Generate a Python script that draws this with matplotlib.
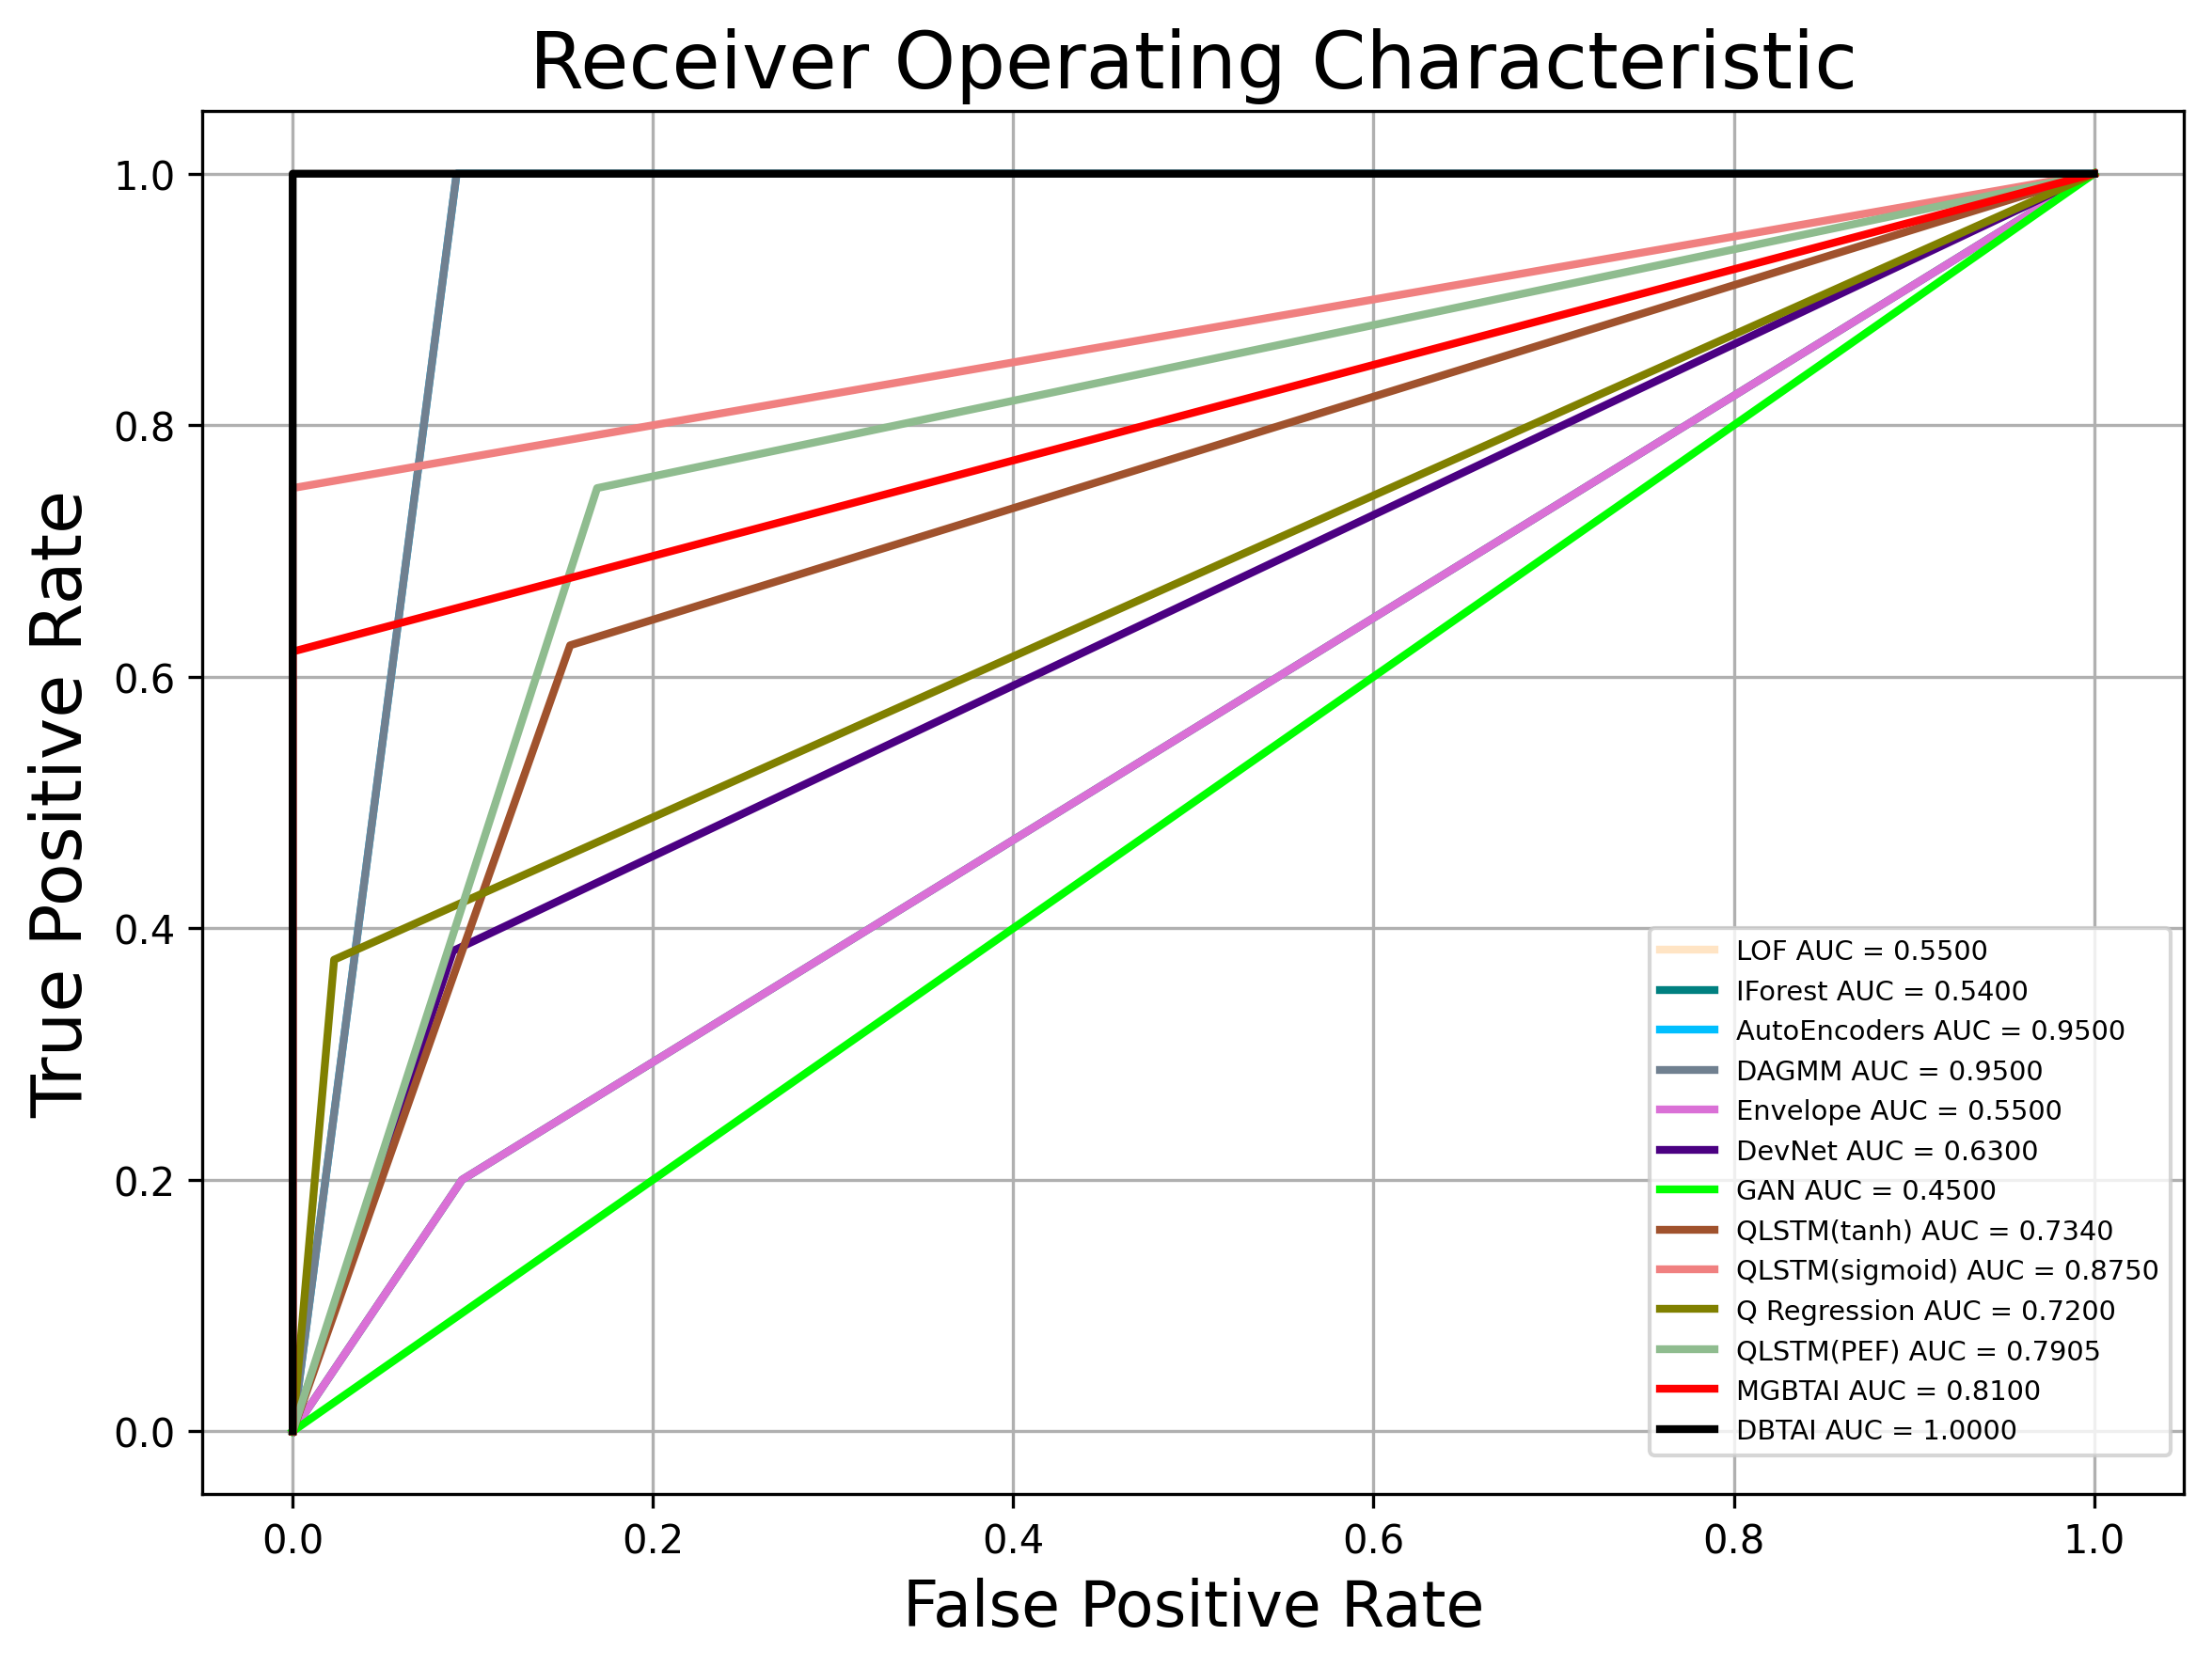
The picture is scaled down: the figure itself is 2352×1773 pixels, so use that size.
import numpy as np
import matplotlib
matplotlib.use("Agg")
import matplotlib.pyplot as plt

# model names, AUC values and colours (legend order = plot order)
models = ["LOF", "IForest", "AutoEncoders", "DAGMM", "Envelope", "DevNet", "GAN",
          "QLSTM(tanh)", "QLSTM(sigmoid)", "Q Regression", "QLSTM(PEF)", "MGBTAI", "DBTAI"]
aucs = [0.55, 0.54, 0.95, 0.95, 0.55, 0.63, 0.45, 0.734, 0.875, 0.72, 0.7905, 0.81, 1.0]
colors = ["bisque", "teal", "deepskyblue", "slategray", "orchid", "indigo", "lime",
          "sienna", "lightcoral", "olive", "darkseagreen", "red", "black"]

# ROC points
fpr_lof = [0.0, 0.094, 1.0]
tpr_lof = [0.0, 0.2, 1.0]
fpr_iforest = [0.0, 0.094, 1.0]
tpr_iforest = [0.0, 0.2, 1.0]
fpr_ae = [0.0, 0.091, 1.0]
tpr_ae = [0.0, 1.0, 1.0]
fpr_dagmm = [0.0, 0.091, 1.0]
tpr_dagmm = [0.0, 1.0, 1.0]
fpr_env = [0.0, 0.094, 1.0]
tpr_env = [0.0, 0.2, 1.0]
fpr_devnet = [0.0, 0.089, 1.0]
tpr_devnet = [0.0, 0.382, 1.0]
fpr_gan = [0.0, 1.0]
tpr_gan = [0.0, 1.0]
fpr_tanh = [0.0, 0.154, 1.0]
tpr_tanh = [0.0, 0.625, 1.0]
fpr_sig = [0.0, 0.0, 1.0]
tpr_sig = [0.0, 0.75, 1.0]
fpr_qreg = [0.0, 0.023, 1.0]
tpr_qreg = [0.0, 0.375, 1.0]
fpr_pef = [0.0, 0.169, 1.0]
tpr_pef = [0.0, 0.75, 1.0]
fpr_mgbtai = [0.0, 0.0, 1.0]
tpr_mgbtai = [0.0, 0.62, 1.0]
fpr_dbtai = [0.0, 0.0, 1.0]
tpr_dbtai = [0.0, 1.0, 1.0]

fprs = [fpr_lof, fpr_iforest, fpr_ae, fpr_dagmm, fpr_env, fpr_devnet, fpr_gan,
        fpr_tanh, fpr_sig, fpr_qreg, fpr_pef, fpr_mgbtai, fpr_dbtai]
tprs = [tpr_lof, tpr_iforest, tpr_ae, tpr_dagmm, tpr_env, tpr_devnet, tpr_gan,
        tpr_tanh, tpr_sig, tpr_qreg, tpr_pef, tpr_mgbtai, tpr_dbtai]

fig = plt.figure(figsize=(7.84, 5.9133), dpi=300)
fig.subplots_adjust(left=0.0916, right=0.9874, top=0.9330, bottom=0.1036)

for name, auc, c, fx, ty in zip(models, aucs, colors, fprs, tprs):
    # no pixel snapping, so the black curve sits exactly over the ones under it
    plt.plot(fx, ty, color=c, lw=2, snap=False, label=f"{name} AUC = {auc:.4f}")

plt.title("Receiver Operating Characteristic", fontsize=20)
plt.xlabel("False Positive Rate", fontsize=16)
plt.ylabel("True Positive Rate", fontsize=18)
plt.legend(loc="lower right", bbox_to_anchor=(1.0, 0.0185), fontsize="x-small")
plt.grid(True)
plt.savefig("out.png", dpi=300)
